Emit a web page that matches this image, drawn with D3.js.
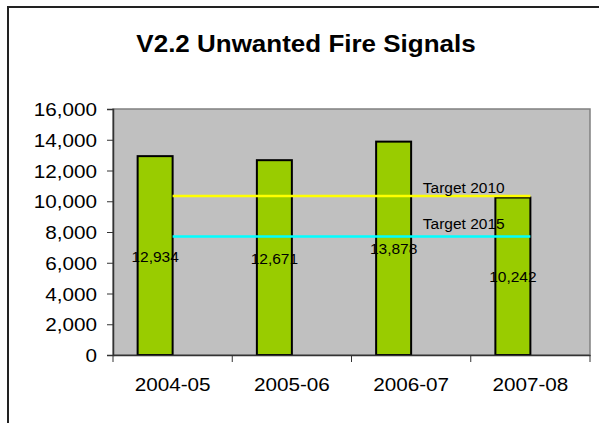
<!DOCTYPE html>
<html>
<head>
<meta charset="utf-8">
<script src="https://cdn.jsdelivr.net/npm/d3@7"></script>
<style>
  body { margin: 0; background: #fff; }
  svg { display: block; font-family: "Liberation Sans", Arial, sans-serif; }
</style>
</head>
<body>
<script>
const categories = ["2004-05", "2005-06", "2006-07", "2007-08"];
const signals = [12934, 12671, 13878, 10242];
const targetNames = ["Target 2010", "Target 2015"];
const targetValues = [10340, 7700];
const targetColors = ["#ffff00", "#00ffff"];
const yTicks = [0, 2000, 4000, 6000, 8000, 10000, 12000, 14000, 16000];

const width = 599, height = 423;
const plot = { left: 113, right: 590, top: 109, bottom: 355 };
const stretch = 1.15;

const svg = d3.select("body").append("svg")
    .attr("width", width)
    .attr("height", height);

// outer frame (only left and top edges are in view)
svg.append("path")
    .attr("d", "M8,423 L8,7 L599,7")
    .attr("fill", "none")
    .attr("stroke", "#222")
    .attr("stroke-width", 2);

svg.append("text")
    .attr("transform", "translate(306,52) scale(1.13,1)")
    .attr("text-anchor", "middle")
    .style("font-size", "23px")
    .style("font-weight", "bold")
    .text("V2.2 Unwanted Fire Signals");

const x = d3.scaleBand()
    .domain(categories)
    .range([plot.left, plot.right]);

const y = d3.scaleLinear()
    .domain([0, 16000])
    .range([plot.bottom, plot.top]);

const bw = x.bandwidth();
const barW = bw * 0.2935;
const mid = (d) => x(d) + bw / 2;

// plot area
svg.append("rect")
    .attr("x", plot.left)
    .attr("y", plot.top)
    .attr("width", plot.right - plot.left)
    .attr("height", plot.bottom - plot.top)
    .attr("fill", "#c0c0c0")
    .attr("stroke", "#808080")
    .attr("stroke-width", 1.5);

// bars
svg.selectAll(".bar")
    .data(signals)
    .enter().append("rect")
    .attr("class", "bar")
    .attr("x", (d, i) => mid(categories[i]) - barW)
    .attr("y", (d) => y(d))
    .attr("width", barW)
    .attr("height", (d) => y(0) - y(d))
    .attr("fill", "#99cc00")
    .attr("stroke", "#000")
    .attr("stroke-width", 2);

// target lines
targetValues.forEach((v, i) => {
    svg.append("line")
        .attr("x1", mid(categories[0]))
        .attr("x2", mid(categories[categories.length - 1]))
        .attr("y1", y(v))
        .attr("y2", y(v))
        .attr("stroke", targetColors[i])
        .attr("stroke-width", 2.5);
});

// target labels
const labelX = (mid(categories[2]) + mid(categories[3])) / 2 - 7;
targetValues.forEach((v, i) => {
    svg.append("text")
        .attr("x", labelX)
        .attr("y", y(v) - (i == 0 ? 3 : 8))
        .attr("text-anchor", "middle")
        .style("font-size", "15.5px")
        .text(targetNames[i]);
});

// data labels, half way up each bar
svg.selectAll(".lbl")
    .data(signals)
    .enter().append("text")
    .attr("class", "lbl")
    .attr("x", (d, i) => mid(categories[i]) - barW / 2)
    .attr("y", (d) => y(d / 2) + 6)
    .attr("text-anchor", "middle")
    .style("font-size", "15.5px")
    .text((d) => d3.format(",")(d));

// y axis
const yAxis = svg.append("g")
    .attr("transform", "translate(" + plot.left + ",0)")
    .call(d3.axisLeft(y).tickValues(yTicks).tickSize(6).tickPadding(0).tickFormat(d3.format(",")));
yAxis.select(".domain").attr("stroke", "#333").attr("stroke-width", 1.5);
yAxis.selectAll(".tick line").attr("stroke", "#333");
yAxis.selectAll(".tick text")
    .attr("x", 0)
    .attr("dy", null)
    .attr("transform", "translate(-16,6.5) scale(" + stretch + ",1)")
    .style("font-size", "18px")
    .style("font-family", "Liberation Sans, Arial, sans-serif")
    .attr("fill", "#000");

// x axis
const xAxis = svg.append("g")
    .attr("transform", "translate(0," + plot.bottom + ")")
    .call(d3.axisBottom(x).tickSize(0).tickPadding(0));
xAxis.select(".domain").attr("stroke", "#333").attr("stroke-width", 1.5);
xAxis.selectAll(".tick text")
    .attr("y", 0)
    .attr("dy", null)
    .attr("transform", "translate(0,36) scale(" + stretch + ",1)")
    .style("font-size", "18px")
    .style("font-family", "Liberation Sans, Arial, sans-serif")
    .attr("fill", "#000");

// category boundary ticks
svg.selectAll(".xtick")
    .data(categories.concat([null]))
    .enter().append("line")
    .attr("class", "xtick")
    .attr("x1", (d) => d ? x(d) : plot.right)
    .attr("x2", (d) => d ? x(d) : plot.right)
    .attr("y1", plot.bottom)
    .attr("y2", plot.bottom + 7)
    .attr("stroke", "#333");
</script>
</body>
</html>
